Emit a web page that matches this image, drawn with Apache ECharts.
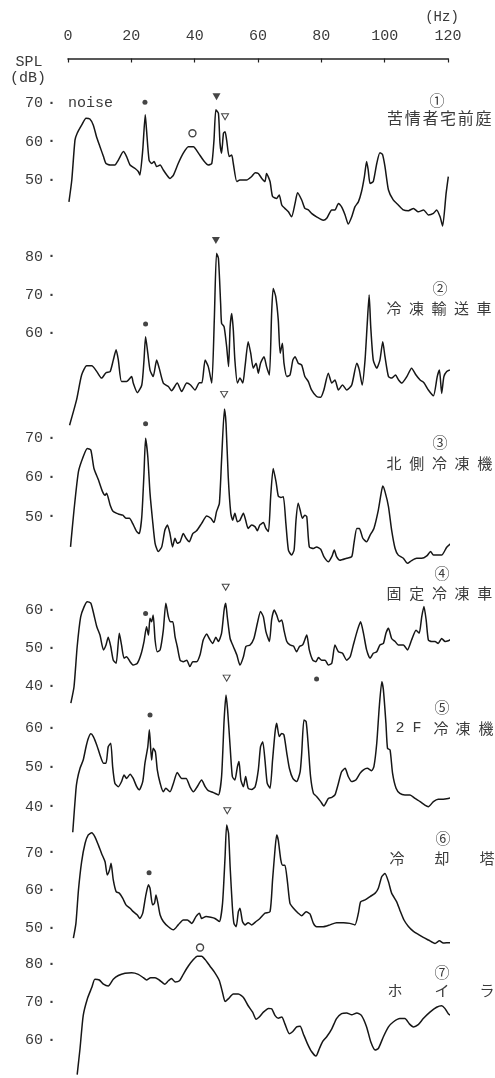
<!DOCTYPE html>
<html><head><meta charset="utf-8">
<script src="https://cdn.jsdelivr.net/npm/echarts@6/dist/echarts.min.js"></script>
<style>html,body{margin:0;padding:0;background:#fff}#c{width:495px;height:1078px}</style>
</head><body><div id="c"></div>
<script>
// ---------- DATA ----------
const xTicks = [0, 20, 40, 60, 80, 100, 120];

const spec1 = [[0.3,44.3],[1.2,50],[2.2,60.4],[2.9,62.2],[4.3,64.3],[5.7,66.1],[6.9,65.9],[8,64.3],[9,61.3],[10.1,58.7],[11.2,56.1],[12,54.3],[13.3,53.9],[14.8,53.9],[15.9,55.2],[17.5,57.4],[18.5,56.1],[19.6,53.9],[21.2,53],[22.2,52.2],[22.7,51.3],[23.6,57.8],[24.4,67],[24.8,63],[25.6,55.2],[26.4,54.3],[27.2,54.8],[28,53.5],[29.1,53.9],[30.1,52.6],[31.2,51.3],[32.2,50.4],[33.3,51.3],[34.8,54.3],[36.4,57],[38,58.7],[39.6,58.7],[41.2,57],[42.7,55.2],[44.3,53.9],[45.4,54.3],[46.1,60.4],[46.7,68.3],[47.5,67.4],[48,59.6],[48.5,57],[49.1,62.2],[49.6,62.6],[50.1,60.4],[50.9,56.1],[51.7,56.5],[52.2,54.3],[53.3,49.6],[54.3,50],[56.4,50],[58,50.9],[59.1,51.9],[60.1,51.7],[61.2,50.4],[62.2,49.6],[62.7,51.7],[63.8,49.6],[64.6,45.7],[65.9,45.2],[66.7,46.1],[67.5,43.5],[68.5,42.6],[69.6,41.7],[70.6,40.4],[71.7,43.9],[72.5,46.7],[73.8,44.8],[74.8,42.6],[75.9,42.2],[76.9,41.3],[78.5,40.4],[80.6,39.5],[81.7,40],[83.3,42.2],[84.3,42.2],[85.4,43.9],[86.4,43],[87.5,40.9],[88.5,38.5],[89.6,40.4],[90.6,43],[91.7,44.3],[92.7,47],[93.6,50.9],[94.3,54.8],[94.8,52.6],[95.4,49.1],[96.4,49.6],[97.5,54.3],[98.5,57.1],[99.3,56.7],[100.1,53.5],[101.2,47.4],[102.7,44.8],[104.3,43.5],[105.9,42.2],[107.5,42],[109.1,42.6],[110.6,41.7],[112.3,42.2],[113.8,40.9],[115.4,41.3],[116.4,42.2],[117.5,40.4],[118.3,38],[119.4,46.5],[120.1,50.9]];

const spec2 = [[0.5,36],[2.7,42.6],[4.3,49.1],[5.9,51.5],[7.5,51.5],[9.1,50],[10.6,48.3],[12,49.7],[13.3,50],[14.3,53],[15.2,55.7],[15.9,53],[16.9,47.4],[18.5,47.4],[20.1,48.7],[20.6,47],[21.9,44.5],[23.3,46.5],[24,53],[24.5,59.1],[25.2,54.8],[25.9,50.4],[26.9,48.7],[28,53],[28.8,50.9],[30.1,47],[31.7,46.1],[32.7,45],[34.5,47],[35.9,44.8],[37.5,47],[38.7,46.5],[40.1,45.2],[41.5,47.1],[42.3,47.1],[43.3,53],[44.3,51.3],[45.4,47],[46.2,63.5],[46.9,80.9],[47.5,79.6],[48.2,67.8],[48.5,62.6],[49.3,61.7],[50.1,56.5],[50.7,51.3],[51.2,61.7],[51.7,65.2],[52.2,60.9],[52.7,53],[53.5,47],[54.3,48.3],[55.2,47],[55.9,51.3],[56.9,57.8],[57.7,54.8],[58.5,50.9],[59.4,52.2],[60.1,49.6],[60.8,52.2],[61.9,53.9],[62.7,51.3],[63.6,49.1],[64.3,65.2],[64.8,71.7],[65.6,69.6],[66.4,63.5],[67,54.8],[67.7,57.4],[68.2,52.2],[69.1,48.7],[70.1,49.1],[71,53],[71.7,53.9],[72.7,52.2],[73.8,51.7],[74.8,48.7],[75.9,47.4],[76.9,45.2],[78.5,43.5],[79.8,43.3],[80.8,45.2],[82.2,49.6],[83.3,47],[84.3,47.8],[85.4,45.2],[86.7,46.5],[88,45.2],[89.6,46.5],[91.2,52.2],[92,50.4],[92.9,46.5],[93.8,53],[94.5,62.6],[95.1,70],[95.6,61.7],[96.4,53],[97.5,50.9],[98.5,53],[99.4,57.8],[100.1,53.9],[101.2,48.7],[102.2,48.3],[103.4,49.1],[104.4,47.8],[105.4,47],[107,48.7],[108.5,50.9],[109.9,49.1],[111.2,47.8],[112.4,47.1],[113.8,45.2],[115.4,43.7],[116.6,48.7],[117.3,50.4],[118,44.3],[118.7,48.7],[119.6,50],[120.6,50.4]];

const spec3 = [[0.8,42.3],[1.9,51.7],[3.3,61.5],[4.8,65.3],[6.1,67.4],[7.2,67],[8.2,62.3],[9.6,59.4],[10.9,56.4],[11.7,55.5],[12.2,56],[13.3,53],[14.3,51.3],[15.9,50.7],[17.3,50.4],[18.3,49.6],[19.4,49.6],[20.4,48.3],[21.7,46.2],[22.5,45.7],[23.3,50],[24,61.1],[24.5,70],[25.2,65.3],[25.9,56],[26.7,49.1],[27.5,43.2],[28.5,41.1],[29.6,42.3],[30.6,46.6],[31.4,47.9],[32.2,45.7],[33,42.3],[33.8,44.5],[34.5,43.2],[35.4,43.6],[36.4,45.7],[37.3,44.5],[38.3,43.6],[39.4,45.7],[40.6,46.4],[42.2,48.3],[43.8,50.2],[45.1,49.6],[46.1,48.5],[46.9,51.3],[47.8,53.4],[48.5,64.5],[49.4,77.5],[49.9,73.8],[50.6,60.2],[51.4,50.9],[52,49.1],[52.7,50.9],[53.5,48.7],[54.3,49.1],[55.4,50.9],[56.1,49.1],[56.9,47],[58,47.9],[59.1,47.4],[59.8,46.4],[60.6,47.9],[61.7,48.5],[62.5,47],[63.3,46.2],[64,55.1],[64.8,62.3],[65.7,58.9],[66.4,55.3],[67.2,54.9],[68,55.1],[68.8,48.3],[69.6,41.5],[70.6,40.2],[71.4,41.5],[72,49.1],[72.7,53.4],[73.3,51.7],[74,49.6],[74.8,50.4],[75.4,50],[76.2,42.3],[77.5,41.9],[78.5,42.3],[79.8,41.7],[80.8,39.8],[82.2,38.5],[83.3,39.8],[84.1,41.5],[84.8,39.8],[85.9,38.9],[88,39.4],[89.6,39.8],[90.3,43.2],[91.2,47],[92,47],[93.1,44.5],[94.3,43.6],[95.4,45.3],[96.6,47],[98,51.7],[98.7,55.1],[99.4,57.8],[100.1,56.4],[101.2,52.6],[102.2,46.6],[103.3,41.9],[104.3,40.2],[105.9,39.4],[107.2,38.1],[108.5,38.8],[110.1,39.4],[111.7,39.4],[113.3,40],[114.5,41.1],[115.4,40.2],[116.9,40.2],[118,40.2],[119.6,42.2],[121,43.2]];

const spec4 = [[0.9,35.5],[1.9,39.8],[2.9,50.4],[4,58.2],[5.1,60.9],[6.1,62.2],[7.2,61.8],[8.2,58.7],[9.1,55.6],[10.1,53.4],[11.2,49.5],[12,50.8],[12.7,52.8],[13.5,50.4],[14.3,46.8],[15.2,46],[16.2,53.9],[16.9,50.8],[17.7,47.3],[18.5,47.7],[19.6,46.4],[20.6,45.5],[21.9,46],[23,48.2],[24,51.7],[24.8,55.6],[25.4,53.4],[25.9,57.8],[26.4,56.9],[26.9,58.7],[27.5,52.1],[28.2,49],[29.1,49.5],[30.1,54.7],[30.9,61.8],[31.7,58.2],[32.4,56.9],[33.1,56.9],[33.8,53],[34.5,50.4],[35.4,46.8],[36.4,46.4],[37.5,46.8],[38.5,45.1],[39.4,46.4],[40.6,46.4],[41.7,48.2],[42.7,52.1],[43.8,53.7],[44.6,52.5],[45.7,51.2],[46.7,52.8],[47.5,51.7],[48.5,53.9],[49.3,60],[49.8,61.8],[50.3,58.2],[51.2,52.5],[52.2,50.4],[53.3,48.2],[54.3,45.5],[55.4,47.7],[56.2,50.4],[57.5,50.8],[58.7,52.5],[59.8,56.5],[60.8,59.6],[61.7,58.2],[62.5,54.3],[63.6,51.7],[64.3,57.4],[65.1,60],[65.9,58.7],[66.7,56.9],[67.5,57.4],[68.2,54.7],[69.1,51.7],[70.1,50.8],[71.2,50.5],[72.2,49],[73.1,50.4],[74.1,50.8],[75.4,53.4],[76.2,49.5],[77.3,46.8],[78.3,46.4],[79.1,47.5],[80.1,46.8],[81.2,46.8],[82.2,45.5],[83.3,46],[84.3,50.8],[85.4,49],[86.7,48.6],[88,46.8],[89.1,47.7],[90.1,50.8],[91.4,54.7],[92.4,56.9],[93.3,53.9],[94.3,49.5],[95.4,47.3],[96.4,48.6],[97.5,49],[98.5,50.8],[99.6,51.2],[100.4,53.9],[101.2,55.2],[102.2,52.5],[103.3,51.7],[104.3,50.8],[105.9,50.8],[107.2,49.5],[108.5,52.1],[109.9,54.7],[110.9,53.9],[111.7,58.2],[112.4,60.9],[113.1,57.4],[113.8,52.1],[114.8,51.7],[115.9,51.7],[116.9,51.2],[118,52.5],[119.1,51.7],[120.1,51.9],[121.4,52.5]];

const spec5 = [[1.5,33.5],[2.5,44.3],[2.9,46.8],[3.8,49.8],[4.8,51.9],[5.7,55.3],[6.4,57.4],[7.2,58.6],[8,57.9],[9.1,55.7],[10.1,53.2],[11.2,51.1],[12,51.1],[12.7,55.3],[13.5,56.2],[14.1,50.2],[14.8,46],[15.9,45.1],[16.9,46.4],[17.7,48.1],[18.5,47.2],[19.6,48.3],[20.6,47.2],[21.7,45.1],[22.5,44.3],[23.6,46.4],[24.3,51.1],[25.2,55.3],[25.7,59.6],[26.4,51.9],[26.9,54.9],[27.6,54],[28.2,49.4],[29.1,46],[30.1,43.8],[30.9,44.7],[32.2,43.8],[33.3,46],[34.5,48.7],[35.9,47.2],[37.3,47.2],[38.5,45.1],[39.6,43.8],[40.8,45.1],[42.2,46.8],[43.3,45.1],[44.3,44.1],[45.9,43.6],[47.5,43],[48.5,47.7],[49.3,62.1],[49.9,68.5],[50.4,64.7],[51.2,55.3],[51.9,47.7],[52.7,46.8],[53.5,50.2],[54,51.5],[54.6,46.8],[55.4,45.1],[56.1,47.7],[56.9,44.7],[58,44.4],[59.1,45.1],[60.1,49.4],[60.8,55.3],[61.5,56.6],[62.2,51.9],[62.9,46],[63.8,44.7],[64.6,51.9],[65.4,59.1],[65.9,61.3],[66.7,57.9],[67.5,58.7],[68.2,58.3],[69.1,53.6],[69.9,49.8],[71,47.2],[72.2,46.4],[73.3,48.9],[73.8,53.6],[74.5,62.1],[75.2,61.7],[75.9,55.3],[76.6,47.7],[77.5,43.4],[78.5,42.6],[79.8,41.3],[80.8,40.2],[82.2,42.1],[83.3,42.4],[84.3,43],[85.4,46],[86.4,48.9],[87.5,49.8],[88.5,47.7],[89.6,46.4],[90.9,46.8],[92.2,48.5],[93.3,49.4],[94.5,49.8],[95.9,49.2],[96.6,50.2],[97.5,56.2],[98.3,65.5],[99.1,71.9],[99.6,69.8],[100.4,61.3],[100.9,54.9],[101.7,54.5],[102.5,48.5],[103.6,44.7],[104.8,43.4],[106.4,43],[108,43],[109.6,42.1],[111.2,41.3],[112.7,40.4],[113.8,40],[115.4,41.3],[116.9,41.9],[118.5,41.9],[120.1,42.1],[121.7,42.4]];

const spec6 = [[1.7,47.4],[2.5,51.3],[3.3,60.1],[4.3,67.6],[5.4,72.5],[6.4,74.7],[7.5,75.3],[8.5,74.2],[9.6,72],[10.6,69.8],[11.7,67.6],[12.4,64.1],[13.1,65.4],[13.6,67.2],[14.3,62.8],[15.2,59.7],[16.2,59.3],[17.3,57.9],[18.3,56.2],[19.6,55.3],[20.6,54.4],[21.9,53.5],[22.7,52.6],[23.6,54],[24.5,58.4],[25.4,61.5],[25.9,60.6],[26.7,56.2],[27.3,56.6],[27.8,58.8],[28.4,56.6],[29.1,53.5],[30.1,51.8],[31.7,50.4],[33.3,49.6],[34.8,50.9],[36.4,52.2],[37.7,52.2],[39.1,51.3],[40.4,53.1],[41.5,54],[42.2,52.6],[43.6,53.1],[45.1,52.9],[46.4,52.6],[47.8,51.8],[48.8,56.6],[49.6,68.9],[50.1,77.3],[50.7,75.1],[51.2,66.3],[51.9,55.7],[52.4,51.3],[53.1,50.4],[53.8,54.4],[54.3,55.3],[55.1,51.8],[55.9,50.9],[56.9,51.5],[58,50.9],[59.4,51.8],[60.6,52.6],[62.2,54],[63.8,54.4],[64.6,62.8],[65.4,71.1],[65.9,74.7],[66.4,73.3],[67.2,68.1],[67.8,66.7],[68.5,66.7],[69.3,62.3],[70.1,56.6],[71.2,55.3],[72.7,54],[73.8,53.3],[75.2,54.4],[76.4,53.8],[77.5,51.3],[78.5,50.4],[80.6,50.4],[82.7,50.9],[84.8,51.5],[87,51.5],[89,51.3],[90.6,50.9],[91.7,54],[92.4,57],[93.8,57.5],[95.4,58.4],[97,59.3],[98,60.6],[99.1,63.7],[100.1,64.5],[101.2,62.3],[102.2,59.3],[103.8,57],[104.8,54.8],[106.1,52.2],[107.5,50.5],[109.1,49.2],[110.6,48.4],[112.2,47.6],[113.8,46.9],[115.9,46],[117.3,46.7],[118.5,46.1],[120.6,46.2],[122,46]];

const spec7 = [[2.9,50.9],[3.8,57.8],[4.8,66.5],[6.1,70.9],[7.5,73.9],[8.5,76.1],[9.9,75.9],[11.2,74.8],[12.7,74.3],[14.3,76.1],[15.9,77.1],[18,77.7],[20.1,77.8],[22.2,77.4],[23.8,76.5],[24.8,75.9],[26.1,76.5],[27.5,76.5],[28.8,75.9],[30.6,74.8],[31.7,75.7],[32.7,76.3],[33.8,75.4],[35.2,75.7],[36.4,77.4],[38,79.6],[39.6,81.3],[40.8,82.2],[42.2,82.2],[43.3,81.3],[44.8,79.6],[46.4,77.8],[47.8,75.7],[48.8,72.6],[49.6,70.2],[50.6,70.9],[52.2,72.2],[53.8,72.2],[55.4,71.3],[56.9,69.1],[58.3,67.4],[59.4,65.5],[60.4,66.1],[61.7,67.4],[63.3,68.4],[64.3,68.3],[65.4,66.5],[66.4,65.8],[67.5,66.1],[68.5,64.3],[69.9,61.7],[71,62.3],[72.2,63.5],[73.3,63.7],[74.3,61.7],[75.6,59.1],[76.9,57],[78.3,55.8],[79.4,57.8],[80.4,59.6],[81.7,60.9],[83.3,63],[84.8,65.7],[86.4,67],[88,67.2],[89.6,66.7],[91.2,67.2],[92.7,66.5],[94.3,63.5],[95.6,59.6],[97,57.4],[98,57.8],[99.6,60.9],[101.2,63.5],[102.7,64.8],[104.8,65.7],[106.4,65.7],[107.8,64.3],[109.1,63.5],[110.6,64.1],[112.2,65.7],[114.3,67.4],[116.4,68.7],[118,69.1],[119,68.4],[120.1,67],[121.7,66.1],[122.7,65.7]];

// tick labels shown on each panel's dB scale
const yTicks1 = [50, 60, 70];
const yTicks2 = [60, 70, 80];
const yTicks3 = [50, 60, 70];
const yTicks4 = [40, 50, 60];
const yTicks5 = [40, 50, 60];
const yTicks6 = [50, 60, 70];
const yTicks7 = [60, 70, 80];

// peak markers: [Hz, dB, kind]
const markers1 = [[24.3,70.3,'fdot'],[39.3,62.2,'odot'],[46.9,71.7,'ftri'],[49.6,66.5,'otri']];
const markers2 = [[24.5,62.4,'fdot'],[46.7,84.2,'ftri']];
const markers3 = [[24.5,73.7,'fdot'],[49.3,81.2,'otri']];
const markers4 = [[24.5,59.1,'fdot'],[49.8,66,'otri']];
const markers5 = [[25.9,63.4,'fdot'],[50.1,72.8,'otri'],[78.5,72.6,'fdot']];
const markers6 = [[25.6,64.7,'fdot'],[50.3,81.1,'otri']];
const markers7 = [[41.7,84.5,'odot']];

const panelNums = ['①','②','③','④','⑤','⑥','⑦'];
const panelNames = ['苦情者宅前庭','冷凍輸送車','北側冷凍機','固定冷凍車','2F冷凍機','冷却塔','ホイラ'];

// ---------- LAYOUT ----------
const specs = [spec1, spec2, spec3, spec4, spec5, spec6, spec7];
const yTicks = [yTicks1, yTicks2, yTicks3, yTicks4, yTicks5, yTicks6, yTicks7];
const markers = [markers1, markers2, markers3, markers4, markers5, markers6, markers7];
// anchor value a at pixel p, s px per dB
const panels = [
  {a:70, p:103.3, s:3.835, min:30, max:80},
  {a:80, p:256.7, s:3.83,  min:30, max:90},
  {a:70, p:438.3, s:3.92,  min:30, max:90},
  {a:60, p:610,   s:3.80,  min:30, max:70},
  {a:60, p:728.3, s:3.92,  min:30, max:80},
  {a:70, p:852.7, s:3.78,  min:40, max:90},
  {a:80, p:965,   s:3.835, min:50, max:90}
];
const labelPos = [
  {num:[437,100], y:118, xs:[395,412.7,430.4,448.1,465.8,483.5], size:16},
  {num:[440,288], y:308, xs:[394,416.5,439,461.5,484], size:15},
  {num:[440,442], y:463, xs:[394,416.7,439.4,462.1,484.8], size:15},
  {num:[442,573], y:593, xs:[394,416.7,439.4,462.1,484.8], size:15},
  {num:[442,707], y:728, xs:[400,417,441,463,486], size:15},
  {num:[443,838], y:858, xs:[397,442,487], size:15},
  {num:[442,972], y:990, xs:[395,442,487], size:15}
];
const GL = 68, GW = 380;
const mono = 'Liberation Mono';
const cjk = '"Noto Sans CJK JP"';
const ink = '#161616';
const txt = '#3a3a3a';

const grids = [], xAxes = [], yAxes = [], series = [];
panels.forEach((P, i) => {
  const top = P.p - (P.max - P.a) * P.s;
  const h = (P.max - P.min) * P.s;
  grids.push({left: GL, width: GW, top: top, height: h});
  xAxes.push({gridIndex: i, type: 'value', min: 0, max: 120, interval: 20, show: false});
  const tk = yTicks[i];
  yAxes.push({
    gridIndex: i, type: 'value', min: P.min, max: P.max, interval: 10,
    axisLine: {show: false}, axisTick: {show: false}, splitLine: {show: false},
    axisLabel: {
      margin: 12, color: txt, fontFamily: mono, fontSize: 15,
      formatter: v => tk.includes(v) ? '{v|' + v + '}{d|·}' : '',
      rich: {v: {fontFamily: mono, fontSize: 15, color: txt},
             d: {fontFamily: mono, fontSize: 15, fontWeight: 'bold', color: txt, padding: [0,0,0,4]}}
    }
  });
  series.push({
    type: 'line', xAxisIndex: i, yAxisIndex: i, data: specs[i],
    showSymbol: false, smooth: 0.2, clip: false,
    lineStyle: {color: ink, width: 1.5}, animation: false
  });
  series.push({
    type: 'scatter', xAxisIndex: i, yAxisIndex: i, clip: false, z: 5,
    data: markers[i].map(m => {
      const o = {value: [m[0], m[1]]};
      if (m[2] === 'fdot') { o.symbol = 'circle'; o.symbolSize = 5; o.itemStyle = {color: ink}; }
      if (m[2] === 'odot') { o.symbol = 'circle'; o.symbolSize = 7; o.itemStyle = {color: '#fff', borderColor: ink, borderWidth: 1.4}; }
      if (m[2] === 'ftri') { o.symbol = 'triangle'; o.symbolRotate = 180; o.symbolSize = [8, 7]; o.itemStyle = {color: ink}; }
      if (m[2] === 'otri') { o.symbol = 'triangle'; o.symbolRotate = 180; o.symbolSize = [7, 6]; o.itemStyle = {color: '#fff', borderColor: ink, borderWidth: 1}; }
      return o;
    }),
    animation: false
  });
});
// top frequency axis
grids.push({left: GL, width: GW, top: 48.5, height: 10});
xAxes.push({
  gridIndex: 7, type: 'value', position: 'top', min: 0, max: 120, interval: 20,
  axisLine: {show: true, lineStyle: {color: '#222', width: 1.6}},
  axisTick: {show: true, inside: true, length: 4, lineStyle: {color: '#222', width: 1.2}},
  splitLine: {show: false},
  axisLabel: {margin: 5, color: txt, fontFamily: mono, fontSize: 15,
    formatter: v => xTicks.includes(v) ? String(v) : ''}
});
yAxes.push({gridIndex: 7, type: 'value', min: 0, max: 1, show: false});

const graphic = [];
const T = (text, x, y, font, align) => graphic.push({type: 'text', x: x, y: y, silent: true,
  style: {text: text, font: font, fill: txt, textAlign: align || 'center', verticalAlign: 'middle'}});
T('(Hz)', 442, 17, '14px ' + mono);
T('SPL', 29, 62, '15px ' + mono);
T('(dB)', 28, 78, '15px ' + mono);
T('noise', 68, 103, '15px ' + mono, 'left');
labelPos.forEach((L, i) => {
  T(panelNums[i], L.num[0], L.num[1], '15px ' + cjk);
  Array.from(panelNames[i]).forEach((ch, k) => {
    const f = /[0-9A-Z]/.test(ch) ? (L.size + 'px ' + mono) : (L.size + 'px ' + cjk);
    T(ch, L.xs[k], L.y, f);
  });
});

const chart = echarts.init(document.getElementById('c'), null, {renderer: 'canvas'});
chart.setOption({
  animation: false,
  backgroundColor: '#fff',
  grid: grids, xAxis: xAxes, yAxis: yAxes, series: series, graphic: graphic
});
</script></body></html>
